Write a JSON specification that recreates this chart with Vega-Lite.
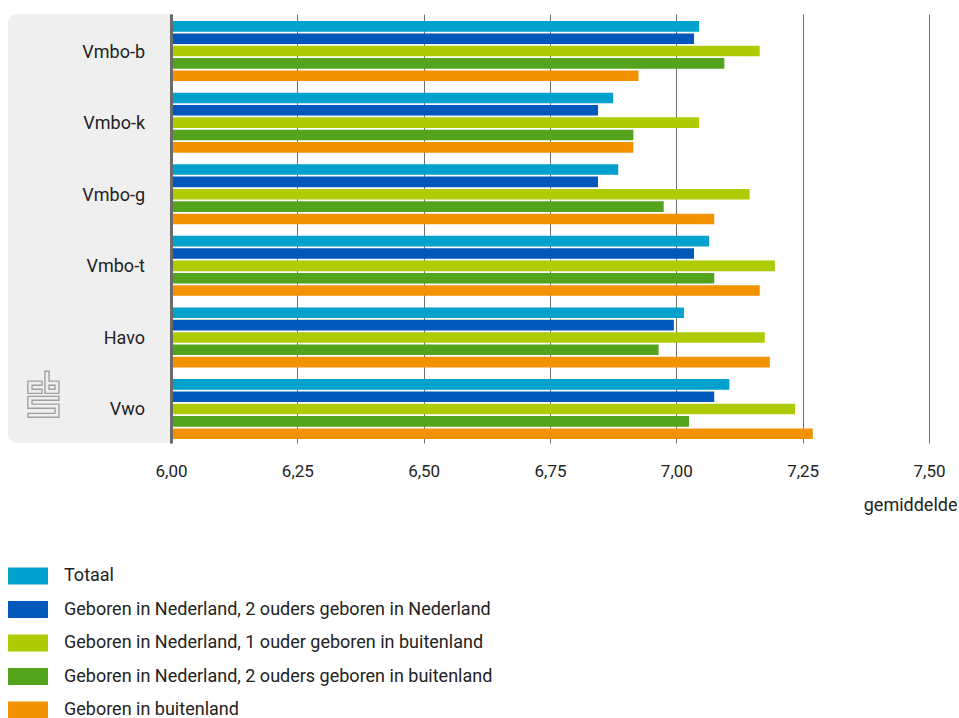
{
  "$schema": "https://vega.github.io/schema/vega-lite/v6.json",
  "padding": {"left": 8, "top": 14, "right": 0, "bottom": 0},
  "autosize": {"type": "pad"},
  "background": "white",
  "spacing": 0,
  "bounds": "flush",
  "config": {"view": {"stroke": null}, "font": "Roboto", "concat": {"spacing": 0}},
  "resolve": {"scale": {"color": "shared"}, "legend": {"color": "shared"}},
  "datasets": {
    "scores": [
      {"opleiding": "Vmbo-b", "groep": "Totaal", "gemiddelde": 7.045},
      {"opleiding": "Vmbo-b", "groep": "Geboren in Nederland, 2 ouders geboren in Nederland", "gemiddelde": 7.035},
      {"opleiding": "Vmbo-b", "groep": "Geboren in Nederland, 1 ouder geboren in buitenland", "gemiddelde": 7.165},
      {"opleiding": "Vmbo-b", "groep": "Geboren in Nederland, 2 ouders geboren in buitenland", "gemiddelde": 7.095},
      {"opleiding": "Vmbo-b", "groep": "Geboren in buitenland", "gemiddelde": 6.925},
      {"opleiding": "Vmbo-k", "groep": "Totaal", "gemiddelde": 6.875},
      {"opleiding": "Vmbo-k", "groep": "Geboren in Nederland, 2 ouders geboren in Nederland", "gemiddelde": 6.845},
      {"opleiding": "Vmbo-k", "groep": "Geboren in Nederland, 1 ouder geboren in buitenland", "gemiddelde": 7.045},
      {"opleiding": "Vmbo-k", "groep": "Geboren in Nederland, 2 ouders geboren in buitenland", "gemiddelde": 6.915},
      {"opleiding": "Vmbo-k", "groep": "Geboren in buitenland", "gemiddelde": 6.915},
      {"opleiding": "Vmbo-g", "groep": "Totaal", "gemiddelde": 6.885},
      {"opleiding": "Vmbo-g", "groep": "Geboren in Nederland, 2 ouders geboren in Nederland", "gemiddelde": 6.845},
      {"opleiding": "Vmbo-g", "groep": "Geboren in Nederland, 1 ouder geboren in buitenland", "gemiddelde": 7.145},
      {"opleiding": "Vmbo-g", "groep": "Geboren in Nederland, 2 ouders geboren in buitenland", "gemiddelde": 6.975},
      {"opleiding": "Vmbo-g", "groep": "Geboren in buitenland", "gemiddelde": 7.075},
      {"opleiding": "Vmbo-t", "groep": "Totaal", "gemiddelde": 7.065},
      {"opleiding": "Vmbo-t", "groep": "Geboren in Nederland, 2 ouders geboren in Nederland", "gemiddelde": 7.035},
      {"opleiding": "Vmbo-t", "groep": "Geboren in Nederland, 1 ouder geboren in buitenland", "gemiddelde": 7.195},
      {"opleiding": "Vmbo-t", "groep": "Geboren in Nederland, 2 ouders geboren in buitenland", "gemiddelde": 7.075},
      {"opleiding": "Vmbo-t", "groep": "Geboren in buitenland", "gemiddelde": 7.165},
      {"opleiding": "Havo", "groep": "Totaal", "gemiddelde": 7.015},
      {"opleiding": "Havo", "groep": "Geboren in Nederland, 2 ouders geboren in Nederland", "gemiddelde": 6.995},
      {"opleiding": "Havo", "groep": "Geboren in Nederland, 1 ouder geboren in buitenland", "gemiddelde": 7.175},
      {"opleiding": "Havo", "groep": "Geboren in Nederland, 2 ouders geboren in buitenland", "gemiddelde": 6.965},
      {"opleiding": "Havo", "groep": "Geboren in buitenland", "gemiddelde": 7.185},
      {"opleiding": "Vwo", "groep": "Totaal", "gemiddelde": 7.105},
      {"opleiding": "Vwo", "groep": "Geboren in Nederland, 2 ouders geboren in Nederland", "gemiddelde": 7.075},
      {"opleiding": "Vwo", "groep": "Geboren in Nederland, 1 ouder geboren in buitenland", "gemiddelde": 7.235},
      {"opleiding": "Vwo", "groep": "Geboren in Nederland, 2 ouders geboren in buitenland", "gemiddelde": 7.025},
      {"opleiding": "Vwo", "groep": "Geboren in buitenland", "gemiddelde": 7.27}
    ]
  },
  "hconcat": [
    {
      "width": 163,
      "height": 429,
      "layer": [
        {
          "data": {"values": [{}]},
          "mark": {"type": "rect", "color": "#efefef", "cornerRadiusTopLeft": 10, "cornerRadiusBottomLeft": 10},
          "encoding": {"x": {"value": 0}, "x2": {"value": "width"}, "y": {"value": 0}, "y2": {"value": "height"}}
        },
        {
          "data": {"name": "scores"},
          "transform": [{"aggregate": [{"op": "count", "as": "n"}], "groupby": ["opleiding"]}],
          "mark": {"type": "text", "align": "right", "baseline": "middle", "dx": -26, "dy": -7, "fontSize": 18, "color": "#222222", "font": "Roboto"},
          "encoding": {
            "y": {"field": "opleiding", "type": "nominal", "sort": ["Vmbo-b", "Vmbo-k", "Vmbo-g", "Vmbo-t", "Havo", "Vwo"], "scale": {"paddingInner": 0.162, "paddingOuter": 0.077, "align": 0.64}, "axis": null},
            "x": {"value": "width"},
            "text": {"field": "opleiding"}
          }
        },
        {
          "data": {"values": [{"opleiding": "Vwo"}]},
          "mark": {"type": "point", "filled": false, "shape": "M-0.09,-0.57H-0.7V-0.04H-0.09V-0.22H-0.52V-0.39H-0.09Z M0.04,-1H0.22V-0.57H0.65V-0.04H0.04Z M0.22,-0.39H0.48V-0.22H0.22Z M-0.7,0.09H0.65V0.26H-0.52V0.43H0.65V1H-0.7V0.83H0.48V0.61H-0.7Z", "size": 2116, "stroke": "#a0a0a0", "strokeWidth": 1.4, "opacity": 1},
          "encoding": {
            "y": {"field": "opleiding", "type": "nominal", "sort": ["Vmbo-b", "Vmbo-k", "Vmbo-g", "Vmbo-t", "Havo", "Vwo"]},
            "yOffset": {"value": -23},
            "x": {"value": 36}
          }
        }
      ]
    },
    {
      "width": 758,
      "height": 429,
      "data": {"name": "scores"},
      "mark": {"type": "bar", "clip": true},
      "encoding": {
        "y": {
          "field": "opleiding", "type": "nominal",
          "sort": ["Vmbo-b", "Vmbo-k", "Vmbo-g", "Vmbo-t", "Havo", "Vwo"],
          "scale": {"paddingInner": 0.162, "paddingOuter": 0.077, "align": 0.64},
          "axis": {"title": null, "labels": false, "ticks": false, "domain": true, "domainColor": "#6b6b6b", "domainWidth": 3, "grid": false, "zindex": 1}
        },
        "yOffset": {
          "field": "groep", "type": "nominal",
          "sort": ["Totaal", "Geboren in Nederland, 2 ouders geboren in Nederland", "Geboren in Nederland, 1 ouder geboren in buitenland", "Geboren in Nederland, 2 ouders geboren in buitenland", "Geboren in buitenland"],
          "scale": {"paddingInner": 0.14, "paddingOuter": 0}
        },
        "x": {
          "field": "gemiddelde", "type": "quantitative",
          "scale": {"domain": [6, 7.5], "nice": false, "zero": false},
          "axis": {
            "values": [6, 6.25, 6.5, 6.75, 7, 7.25, 7.5],
            "labelExpr": "replace(format(datum.value, '.2f'), '.', ',')",
            "grid": true, "gridColor": "#6e6e6e", "gridWidth": 1,
            "domain": false, "ticks": false, "labelFlush": false, "labelOverlap": false,
            "labelFontSize": 17, "labelColor": "#222222", "labelFont": "Roboto", "labelPadding": 20,
            "title": "gemiddelde", "titleFontSize": 18, "titleFontWeight": "normal", "titleColor": "#222222", "titleFont": "Roboto",
            "titleAnchor": "end", "titleAlign": "right", "titleX": 786, "titleY": 67, "titleBaseline": "alphabetic"
          }
        },
        "x2": {"datum": 6},
        "color": {
          "field": "groep", "type": "nominal",
          "sort": ["Totaal", "Geboren in Nederland, 2 ouders geboren in Nederland", "Geboren in Nederland, 1 ouder geboren in buitenland", "Geboren in Nederland, 2 ouders geboren in buitenland", "Geboren in buitenland"],
          "scale": {
            "domain": ["Totaal", "Geboren in Nederland, 2 ouders geboren in Nederland", "Geboren in Nederland, 1 ouder geboren in buitenland", "Geboren in Nederland, 2 ouders geboren in buitenland", "Geboren in buitenland"],
            "range": ["#00a1cd", "#0058b8", "#afcb05", "#53a31d", "#f39200"]
          },
          "legend": {
            "orient": "none", "legendX": 0, "legendY": 542, "title": null, "direction": "vertical",
            "symbolType": "M-1,-0.42H1V0.42H-1Z", "symbolSize": 1600, "symbolStrokeWidth": 0, "symbolOpacity": 1,
            "labelFontSize": 18, "labelColor": "#222222", "labelFont": "Roboto", "labelOffset": 16,
            "rowPadding": 4.5, "padding": 0, "offset": 0, "labelLimit": 600
          }
        }
      }
    }
  ]
}
